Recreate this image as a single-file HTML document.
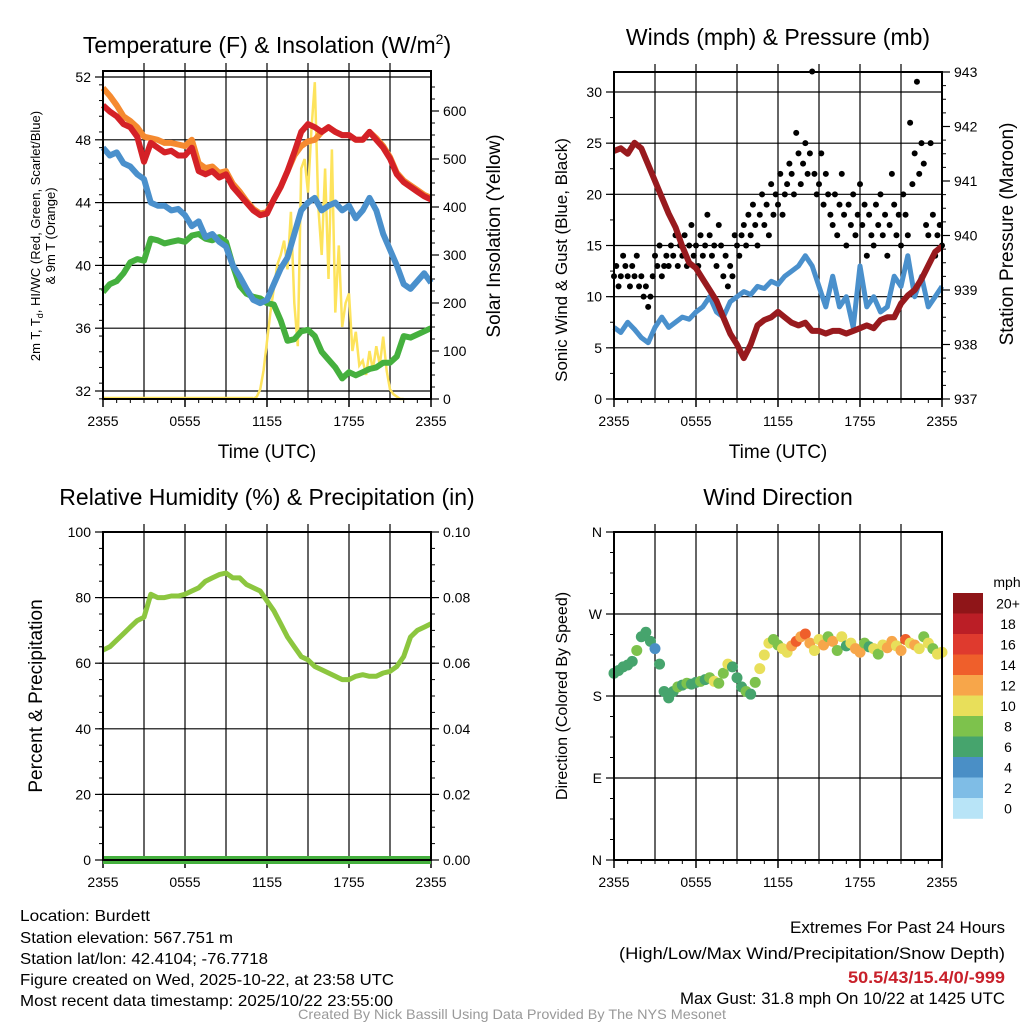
<!DOCTYPE html>
<html><head><meta charset="utf-8"><style>
html,body{margin:0;padding:0;background:#fff;}
svg{display:block;font-family:"Liberation Sans",Arial,sans-serif;}
</style></head><body>
<svg id="fig" width="1024" height="1024" viewBox="0 0 1024 1024" xmlns="http://www.w3.org/2000/svg">
<rect width="1024" height="1024" fill="#fff"/>
<g id="p1"></g>
<g id="p2"></g>
<g id="p3"></g>
<g id="p4"></g>
<g id="cb"></g>
<g font-size="16" fill="#000">
<text x="20" y="921" textLength="130" lengthAdjust="spacingAndGlyphs">Location: Burdett</text>
<text x="20" y="943" textLength="213" lengthAdjust="spacingAndGlyphs">Station elevation: 567.751 m</text>
<text x="20" y="964" textLength="248" lengthAdjust="spacingAndGlyphs">Station lat/lon: 42.4104; -76.7718</text>
<text x="20" y="985" textLength="374" lengthAdjust="spacingAndGlyphs">Figure created on Wed, 2025-10-22, at 23:58 UTC</text>
<text x="20" y="1006" textLength="373" lengthAdjust="spacingAndGlyphs">Most recent data timestamp: 2025/10/22 23:55:00</text>
</g>
<g font-size="17" text-anchor="end">
<text x="1005" y="933" textLength="215" lengthAdjust="spacingAndGlyphs">Extremes For Past 24 Hours</text>
<text x="1005" y="959" textLength="386" lengthAdjust="spacingAndGlyphs">(High/Low/Max Wind/Precipitation/Snow Depth)</text>
<text x="1005" y="983" textLength="157" lengthAdjust="spacingAndGlyphs" font-weight="bold" fill="#c8202a">50.5/43/15.4/0/-999</text>
<text x="1005" y="1004" textLength="325" lengthAdjust="spacingAndGlyphs">Max Gust: 31.8 mph On 10/22 at 1425 UTC</text>
</g>
<text x="512" y="1019" font-size="14" fill="#999" text-anchor="middle" textLength="428" lengthAdjust="spacingAndGlyphs">Created By Nick Bassill Using Data Provided By The NYS Mesonet</text>
</svg>
<script>
// ---- Data (hours since 2355 UTC, 0.5 h steps) ----
const xTickLabels = ["2355","0555","1155","1755","2355"];
const tempRed = [50.2,49.8,49.5,49.0,48.8,48.2,46.6,47.8,47.5,47.2,47.3,47.0,47.0,47.5,46.0,45.8,46.0,45.6,45.8,45.0,44.5,44.0,43.5,43.2,43.3,44.2,45.0,46.0,47.2,48.5,49.0,48.8,48.5,48.8,48.5,48.3,48.3,48.0,48.0,48.5,48.0,47.5,46.8,45.8,45.3,45.0,44.7,44.4,44.2];
const temp9m = [51.3,50.8,50.2,49.5,49.2,48.8,48.2,48.1,48.0,47.8,47.8,47.7,47.6,48.0,46.5,46.2,46.3,45.9,46.0,45.2,44.7,44.1,43.6,43.3,43.4,44.2,45.0,46.0,47.0,47.6,47.9,48.0,48.5,48.8,48.5,48.3,48.3,48.0,48.0,48.5,48.1,47.6,46.9,45.9,45.4,45.1,44.8,44.5,44.3];
const tempBlue = [47.5,47.0,47.2,46.5,46.3,45.8,45.5,44.0,43.8,43.8,43.5,43.6,43.2,42.5,42.8,41.8,42.0,41.5,41.2,40.0,39.3,38.5,37.8,37.6,37.8,38.8,39.8,40.5,42.0,43.5,44.0,44.3,43.5,43.8,44.0,43.5,43.8,43.0,43.5,44.3,43.5,42.0,41.0,40.0,38.8,38.5,39.0,39.5,38.9];
const dewGreen = [38.3,38.8,39.0,39.5,40.2,40.4,40.3,41.7,41.6,41.4,41.5,41.6,41.5,41.9,42.0,41.7,41.6,41.8,41.5,40.0,38.7,38.2,38.0,37.9,37.6,37.5,36.5,35.2,35.3,35.8,35.9,35.5,34.5,34.0,33.5,32.8,33.2,33.0,33.2,33.4,33.5,33.8,33.8,34.2,35.5,35.4,35.6,35.8,36.0];
// solar, 0.25 h steps starting at hour 11
const solar = [0,5,20,60,120,180,230,280,300,330,270,390,200,110,480,500,430,560,660,400,300,480,250,520,180,320,150,200,220,100,140,70,80,50,100,60,110,70,130,60,20,10,5,0,0];
const tempTicks = [32,36,40,44,48,52];
const solarTicks = [0,100,200,300,400,500,600];
// winds
const windSpeed = [7,6.5,7.5,6.8,6,5.5,7,8,7,7.5,8,7.8,8.5,9,10,8.5,8,9.5,10,10.5,10.2,11,10.8,11.5,11.2,12,12.5,13,14,13,11,9,12,9,10,7,13,9,10,8.5,9,12,11,14,10,12,9,10,11];
const pressure = [941.55,941.6,941.5,941.7,941.6,941.3,941.0,940.7,940.4,940.15,939.8,939.5,939.4,939.2,939.0,938.8,938.5,938.2,938.0,937.75,938.0,938.35,938.45,938.5,938.6,938.5,938.4,938.35,938.4,938.25,938.25,938.2,938.25,938.25,938.2,938.25,938.3,938.35,938.3,938.45,938.5,938.5,938.75,938.9,939.0,939.2,939.45,939.7,939.8];
// gusts, 10-minute steps
const gusts = [12,13,11,12,14,13, 12,11,13,12,14,11, 12,10,11,9,10,12, 14,13,15,12,13,14, 13,15,14,16,13,15, 14,16,13,15,17,14, 15,13,16,14,15,18, 16,14,15,13,17,15, 12,14,11,13,12,16, 15,14,16,17,15,18, 16,19,17,15,18,20, 17,19,16,21,18,20, 19,22,18,20,21,23, 22,20,26,24,21,23, 25,22,24,32,22,20, 21,24,19,22,20,18, 17,20,16,19,22,18, 15,19,17,20,16,18, 21,17,19,14,18,16, 15,19,17,20,16,18, 14,17,22,19,16,18, 15,20,18,16,27,21, 24,31,22,25,23,17, 16,25,18,14,16,17, 15];
const windTicks = [0,5,10,15,20,25,30];
const presTicks = [937,938,939,940,941,942,943];
// humidity
const rh = [64,65,67,69,71,73,74,81,80,80,80.5,80.5,81,82,83,85,86,87,87.5,86,86,84,83,82,79,76,72,68,65,62,61,59,58,57,56,55,55,56,56.5,56,56,57,57.5,59,62,68,70,71,72];
const precip = [0,0,0,0,0,0,0,0,0,0,0,0,0,0,0,0,0,0,0,0,0,0,0,0,0,0,0,0,0,0,0,0,0,0,0,0,0,0,0,0,0,0,0,0,0,0,0,0,0];
const rhTicks = [0,20,40,60,80,100];
const precipTicks = ["0.00","0.02","0.04","0.06","0.08","0.10"];
// wind direction, 20-minute steps
const windDir = [205,208,212, 214,218,230, 245,250,240, 232,215,185, 178,185,190, 192,194,193, 195,196,198, 200,196,194, 205,215,212, 200,190,185, 182,195,210, 225,238,242, 236,232,228, 235,240,245, 248,238,230, 242,236,245, 240,230,245, 235,238,232, 228,238,234, 232,226,236, 233,240,235, 230,242,238, 236,232,245, 238,232,226, 228];
const dirSpeed = [7,6.5,7, 6.5,7,8, 7.5,6.5,6, 4.5,6,6.5, 7,7.5,8, 7.5,8,7.5, 7,8,7.5, 9,10,8, 9,10,6.5, 6.5,7,8, 7.5,9,10, 10,10,9, 8,10,11, 12,14,13, 14.5,12,11, 10,12,8, 13,9,11, 7,10,12, 13,9,7.5, 10,8,11, 12,13,10, 12,14,11, 13,10,9, 10,9.5,10, 10];
const dirTicks = ["N","E","S","W","N"];
const cbLabels = ["20+","18","16","14","12","10","8","6","4","2","0"];
const cbColors = ["#8f1518","#bb1e26","#df3a2e","#ef5f2b","#f7a64a","#e8df5a","#7dc24c","#46a46d","#4a8fc6","#7fbde6","#b8e4f7"];

const NS="http://www.w3.org/2000/svg";
function mk(parent,tag,attrs,text){const e=document.createElementNS(NS,tag);for(const k in attrs)e.setAttribute(k,attrs[k]);if(text!==undefined)e.textContent=text;parent.appendChild(e);return e;}
function lin(d0,d1,r0,r1){return v=>r0+(v-d0)*(r1-r0)/(d1-d0);}

function frame(g,L,R,T,B,xs){
  for(let h=3;h<24;h+=3){const l=mk(g,'line',{x1:xs(h),x2:xs(h),y1:T-8,y2:B,stroke:'#000','stroke-width':1.2});
    
    }
  for(let i=0;i<5;i++){const h=i*6;
    const t=mk(g,'text',{x:xs(h),y:B+27,'font-size':14,'text-anchor':'middle'},xTickLabels[i]);
    
    
    mk(g,'line',{x1:xs(h),x2:xs(h),y1:B,y2:B+8,stroke:'#000','stroke-width':1.5});}
  for(let h=1;h<24;h++){if(h%6)mk(g,'line',{x1:xs(h),x2:xs(h),y1:B,y2:B+4,stroke:'#000','stroke-width':1});}
}
function border(g,L,R,T,B){
  const r=mk(g,'rect',{x:L,y:T,width:R-L,height:B-T,fill:'none',stroke:'#000','stroke-width':2});
  
  
}
function yAxis(g,side,X,ys,ticks,labels,minorStep,lo,hi,T,B,L,R,grid){
  const dir=side==='left'?-1:1;
  ticks.forEach((v,i)=>{const y=ys(v);
    if(grid){const l=mk(g,'line',{x1:L,x2:R,y1:y,y2:y,stroke:'#000','stroke-width':1.2});
      
      }
    mk(g,'line',{x1:X,x2:X+dir*8,y1:y,y2:y,stroke:'#000','stroke-width':1.2});
    const t=mk(g,'text',{x:X+dir*12,y:y+5,'font-size':14,'text-anchor':side==='left'?'end':'start'},labels[i]);
    
    });
  for(let v=lo;v<=hi+1e-9;v+=minorStep){const y=ys(v);if(y<T-0.5||y>B+0.5)continue;mk(g,'line',{x1:X,x2:X+dir*4,y1:y,y2:y,stroke:'#000','stroke-width':1});}
}
function pathOf(vals,xs,ys,step,start){return vals.map((v,i)=>(i?'L':'M')+xs(start+i*step).toFixed(1)+','+ys(v).toFixed(1)).join('');}
function title(g,x,y,txt,name){const t=mk(g,'text',{x:x,y:y,'font-size':23,'text-anchor':'middle'},txt);return t;}
function rotLabel(g,x,y,txt,size,name){const t=mk(g,'text',{x:0,y:0,'font-size':size,'text-anchor':'middle',transform:`translate(${x},${y}) rotate(-90)`},txt);return t;}

// ---------- Panel 1 ----------
(function(){
const g=document.getElementById('p1');const L=103,R=431,T=71,B=399;
const xs=lin(0,24,L,R), ys=lin(32,52,391,77), ss=lin(0,600,399,111);
frame(g,L,R,T,B,xs);
yAxis(g,'left',L,ys,tempTicks,tempTicks.map(String),1,31.5,52.3,T,B,L,R,true);
yAxis(g,'right',R,ss,solarTicks,solarTicks.map(String),25,0,670,T,B,L,R,false);
const sp=mk(g,'path',{d:pathOf(solar,xs,ss,0.25,11),fill:'none',stroke:'#fde35c','stroke-width':2.5});

const z=mk(g,'line',{x1:L,x2:xs(11),y1:ss(0)-1,y2:ss(0)-1,stroke:'#fde35c','stroke-width':2.5});

[[dewGreen,'#45b03e','dewpoint-line'],[tempBlue,'#4a90cc','wind-chill-line'],[temp9m,'#f58a2f','temp-9m-line'],[tempRed,'#d42127','temp-2m-line']].forEach(([d,c,n])=>{
  const p=mk(g,'path',{d:pathOf(d,xs,ys,0.5,0),fill:'none',stroke:c,'stroke-width':6,'stroke-linejoin':'round'});
  });
border(g,L,R,T,B);
const t=title(g,267,53,'Temperature (F) & Insolation (W/m','temp-title');mk(t,'tspan',{dy:-9,'font-size':14},'2');mk(t,'tspan',{dy:9},')');
const xl=mk(g,'text',{x:267,y:458,'font-size':19,'text-anchor':'middle'},'Time (UTC)');
const yl=mk(g,'text',{x:0,y:0,'font-size':13,'text-anchor':'middle',transform:'translate(40,236) rotate(-90)'});

mk(yl,'tspan',{},'2m T, T');mk(yl,'tspan',{dy:3,'font-size':9},'d');mk(yl,'tspan',{dy:-3},', HI/WC (Red, Green, Scarlet/Blue)');
mk(g,'text',{x:0,y:0,'font-size':13,'text-anchor':'middle',transform:'translate(55,236) rotate(-90)'},'& 9m T (Orange)');
rotLabel(g,500,236,'Solar Insolation (Yellow)',19,'right-axis-title');
})();

// ---------- Panel 2 ----------
(function(){
const g=document.getElementById('p2');const L=614,R=942,T=72,B=399;
const xs=lin(0,24,L,R), ys=lin(0,30,399,92), ps=lin(937,943,399,72);
frame(g,L,R,T,B,xs);
yAxis(g,'left',L,ys,windTicks,windTicks.map(String),2.5,0,31.5,T,B,L,R,true);
yAxis(g,'right',R,ps,presTicks,presTicks.map(String),0.25,937,943,T,B,L,R,false);
const w=mk(g,'path',{d:pathOf(windSpeed,xs,ys,0.5,0),fill:'none',stroke:'#4a90cc','stroke-width':5,'stroke-linejoin':'round'});

gusts.forEach((v,i)=>{const c=mk(g,'circle',{cx:xs(i/6),cy:ys(v),r:3,fill:'#000'});
  
  });
const p=mk(g,'path',{d:pathOf(pressure,xs,ps,0.5,0),fill:'none',stroke:'#981a1e','stroke-width':6,'stroke-linejoin':'round'});

border(g,L,R,T,B);
title(g,778,45,'Winds (mph) & Pressure (mb)','winds-title');
const xl=mk(g,'text',{x:778,y:458,'font-size':19,'text-anchor':'middle'},'Time (UTC)');
rotLabel(g,567,260,'Sonic Wind & Gust (Blue, Black)',17,'left-axis-title');
rotLabel(g,1013,234,'Station Pressure (Maroon)',19,'right-axis-title');
})();

// ---------- Panel 3 ----------
(function(){
const g=document.getElementById('p3');const L=103,R=431,T=532,B=860;
const xs=lin(0,24,L,R), ys=lin(0,100,860,532), ps=lin(0,0.10,860,532);
frame(g,L,R,T,B,xs);
yAxis(g,'left',L,ys,rhTicks,rhTicks.map(String),5,0,100,T,B,L,R,true);
yAxis(g,'right',R,ys,rhTicks,precipTicks,5,0,100,T,B,L,R,false);
const p=mk(g,'path',{d:pathOf(rh,xs,ys,0.5,0),fill:'none',stroke:'#8cc63f','stroke-width':5,'stroke-linejoin':'round'});

const q=mk(g,'path',{d:pathOf(precip,xs,ps,0.5,0),fill:'none',stroke:'#45b03e','stroke-width':8});

border(g,L,R,T,B);
title(g,267,505,'Relative Humidity (%) & Precipitation (in)','humidity-title');
rotLabel(g,42,696,'Percent & Precipitation',19,'left-axis-title');
})();

// ---------- Panel 4 ----------
(function(){
const g=document.getElementById('p4');const L=614,R=942,T=532,B=860;
const xs=lin(0,24,L,R), ys=lin(0,360,860,532);
frame(g,L,R,T,B,xs);
yAxis(g,'left',L,ys,[0,90,180,270,360],dirTicks,22.5,0,360,T,B,L,R,true);
function col(s){const i=Math.min(10,Math.floor(s/2));return cbColors[10-i];}
windDir.forEach((d,i)=>{const c=mk(g,'circle',{cx:xs(i/3),cy:ys(d),r:5.5,fill:col(dirSpeed[i])});
  
  });
border(g,L,R,T,B);
title(g,778,505,'Wind Direction','direction-title');
rotLabel(g,567,696,'Direction (Colored By Speed)',16,'left-axis-title');
})();

// ---------- Colorbar ----------
(function(){
const g=document.getElementById('cb');const x=953,w=30,y0=593,h=20.5;
cbColors.forEach((c,i)=>{const r=mk(g,'rect',{x:x,y:y0+i*h,width:w,height:h+0.3,fill:c});
  
  
  const t=mk(g,'text',{x:1008,y:y0+i*h+h/2+5,'font-size':14,'text-anchor':'middle'},cbLabels[i]);
  
  });
const u=mk(g,'text',{x:1007,y:587,'font-size':14,'text-anchor':'middle'},'mph');

})();
</script>
</body></html>
